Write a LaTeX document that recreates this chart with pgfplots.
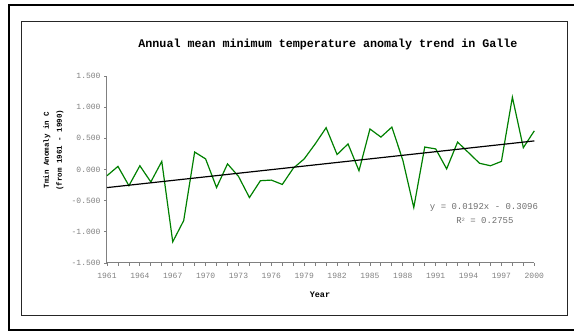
\documentclass[border=0pt]{standalone}
\usepackage{pgfplots}
\pgfplotsset{compat=1.18}
\usepackage{fontspec}
\setmainfont{Liberation Mono}
\definecolor{xlgreen}{HTML}{008000}
\definecolor{axgray}{HTML}{808080}
\definecolor{txtgray}{HTML}{6E6E6E}
\begin{document}
\begin{tikzpicture}
\useasboundingbox (0pt,0pt) rectangle (574pt,331pt);
% outer frame
\draw[line width=2.3pt] (580pt,326pt) -- (9pt,326pt) -- (9pt,1pt) -- (580pt,1pt);
% inner frame
\draw[line width=1pt, black!85] (21pt,15pt) rectangle (567.5pt,309pt);
\begin{axis}[
  at={(107pt,68pt)}, anchor=south west,
  scale only axis, width=427.3pt, height=187pt,
  xmin=1961, xmax=2000, ymin=-1.5, ymax=1.5,
  axis x line=bottom, axis y line=left,
  axis line style={axgray, line width=1pt, -},
  xtick={1961,1964,...,2000},
  minor xtick={1961,1962,...,2000},
  ytick={-1.5,-1,-0.5,0,0.5,1,1.5},
  tick align=outside,
  major tick length=3pt, minor tick length=3pt,
  tick style={axgray, line width=0.8pt},
  every tick label/.append style={font=\fontsize{8}{9}\selectfont, text=axgray},
  /pgf/number format/assume math mode=true,
  xticklabel style={/pgf/number format/1000 sep={}, yshift=-3.5pt},
  yticklabel style={/pgf/number format/.cd, fixed, fixed zerofill, precision=3},
  clip=false,
]
\addplot[xlgreen, line width=1.2pt] coordinates {
(1961,-0.10) (1962,0.05) (1963,-0.26) (1964,0.06) (1965,-0.20)
(1966,0.13) (1967,-1.16) (1968,-0.82) (1969,0.28) (1970,0.17)
(1971,-0.29) (1972,0.09) (1973,-0.11) (1974,-0.45) (1975,-0.18)
(1976,-0.17) (1977,-0.24) (1978,0.02) (1979,0.17) (1980,0.41)
(1981,0.67) (1982,0.24) (1983,0.41) (1984,-0.02) (1985,0.65)
(1986,0.52) (1987,0.68) (1988,0.15) (1989,-0.61) (1990,0.36)
(1991,0.33) (1992,0.01) (1993,0.44) (1994,0.27) (1995,0.10)
(1996,0.06) (1997,0.13) (1998,1.16) (1999,0.35) (2000,0.62)
};
\addplot[black, line width=1.2pt] coordinates {(1961,-0.2904) (2000,0.4584)};
\end{axis}
% title
\node[font=\fontsize{11.7}{13}\selectfont\bfseries] at (328pt,287pt) {Annual mean minimum temperature anomaly trend in Galle};
% y label
\node[rotate=90, align=center, font=\fontsize{7.5}{13}\selectfont\bfseries] at (53.5pt,181pt) {Tmin Anomaly in C\\(from 1961 - 1990)};
% x label
\node[font=\fontsize{8.5}{10}\selectfont\bfseries] at (320pt,36pt) {Year};
% trendline equation
\node[font=\fontsize{9}{10}\selectfont, text=txtgray] at (484pt,124pt) {y = 0.0192x - 0.3096};
\node[font=\fontsize{9}{10}\selectfont, text=txtgray] at (485pt,110pt) {R\raisebox{0.5ex}{\fontsize{5}{6}\selectfont 2} = 0.2755};
\end{tikzpicture}
\end{document}
